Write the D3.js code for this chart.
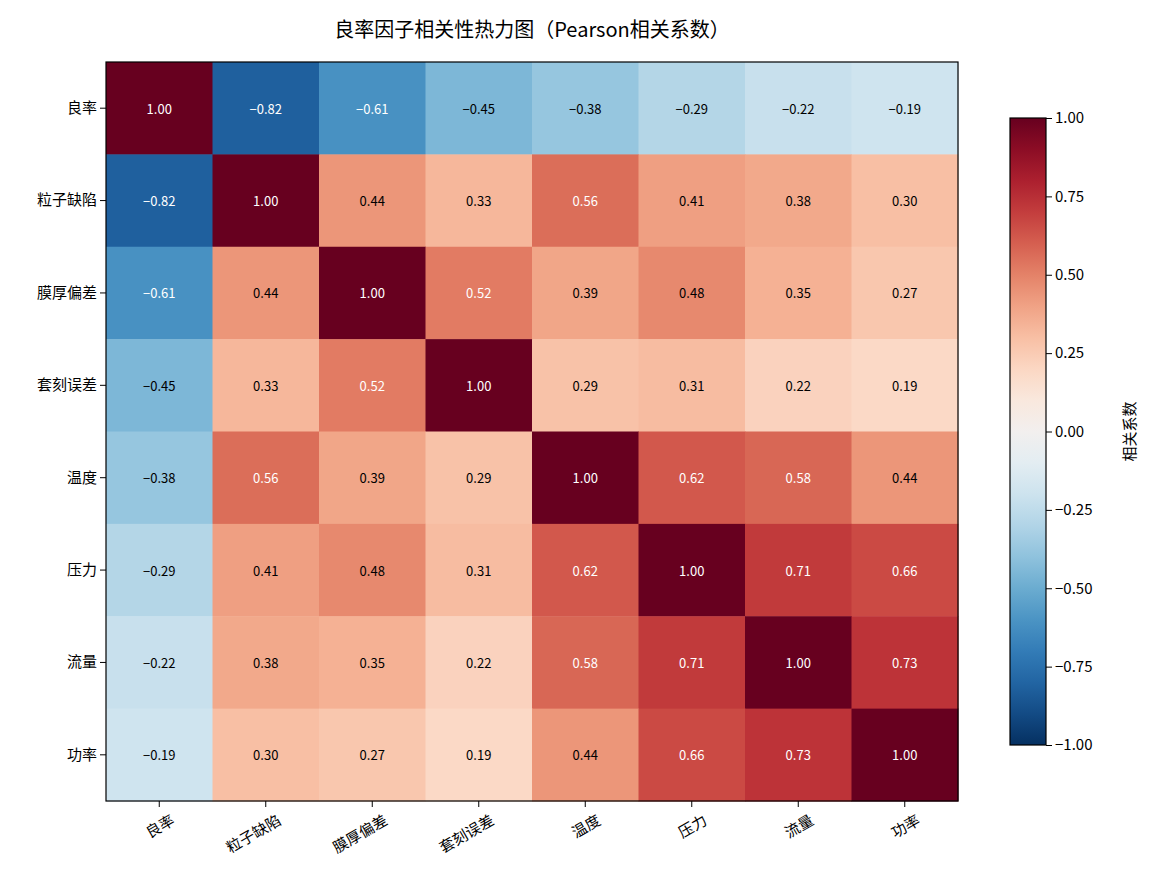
<!DOCTYPE html>
<html><head><meta charset="utf-8">
<script src="https://cdn.jsdelivr.net/npm/d3@7"></script>
<style>body{margin:0;background:#fff}text{font-family:"Noto Sans CJK SC",sans-serif}</style>
</head><body><svg id="chart" width="1155" height="885"></svg>
<script>
const factors = ["良率","粒子缺陷","膜厚偏差","套刻误差","温度","压力","流量","功率"];
const corr = [
  [1.00,-0.82,-0.61,-0.45,-0.38,-0.29,-0.22,-0.19],
  [-0.82,1.00,0.44,0.33,0.56,0.41,0.38,0.30],
  [-0.61,0.44,1.00,0.52,0.39,0.48,0.35,0.27],
  [-0.45,0.33,0.52,1.00,0.29,0.31,0.22,0.19],
  [-0.38,0.56,0.39,0.29,1.00,0.62,0.58,0.44],
  [-0.29,0.41,0.48,0.31,0.62,1.00,0.71,0.66],
  [-0.22,0.38,0.35,0.22,0.58,0.71,1.00,0.73],
  [-0.19,0.30,0.27,0.19,0.44,0.66,0.73,1.00]
];
const cbarTicks = [-1,-0.75,-0.5,-0.25,0,0.25,0.5,0.75,1];

const svg = d3.select("#chart");
const pL = 106, pR = 958, pT = 62, pB = 801;
const x = d3.scaleBand().domain(factors).range([pL, pR]);
const y = d3.scaleBand().domain(factors).range([pT, pB]);
const color = v => d3.interpolateRdBu((1 - v) / 2);

svg.append("text").attr("x", 532).attr("y", 37).attr("text-anchor", "middle")
  .attr("font-size", 20).text("良率因子相关性热力图（Pearson相关系数）");

const cells = [];
corr.forEach((row, i) => row.forEach((v, j) => cells.push({r: factors[i], c: factors[j], v})));

svg.selectAll("rect.cell").data(cells).enter().append("rect")
  .attr("x", d => x(d.c)).attr("y", d => y(d.r))
  .attr("width", x.bandwidth() + 0.5).attr("height", y.bandwidth() + 0.5)
  .attr("fill", d => color(d.v));

svg.selectAll("text.val").data(cells).enter().append("text")
  .attr("x", d => x(d.c) + x.bandwidth() / 2).attr("y", d => y(d.r) + y.bandwidth() / 2)
  .attr("text-anchor", "middle").attr("dominant-baseline", "central")
  .attr("font-size", 13).attr("font-family", "DejaVu Sans Mono")
  .attr("fill", d => Math.abs(d.v) > 0.5 ? "#fff" : "#000")
  .text(d => d.v.toFixed(2).replace("-", "−"));

svg.append("rect").attr("x", pL).attr("y", pT).attr("width", pR - pL).attr("height", pB - pT)
  .attr("fill", "none").attr("stroke", "#000").attr("stroke-width", 1.2);

const xa = svg.append("g").attr("transform", `translate(0,${pB})`)
  .call(d3.axisBottom(x).tickSize(6).tickSizeOuter(0));
xa.select(".domain").remove();
xa.selectAll("text").attr("font-size", 15).attr("text-anchor", "end")
  .attr("transform", "translate(0,6) rotate(-30)").attr("dx", "0.4em").attr("dy", "0.9em")
  .style("font-family", "Noto Sans CJK SC");

const ya = svg.append("g").attr("transform", `translate(${pL},0)`)
  .call(d3.axisLeft(y).tickSize(6).tickSizeOuter(0));
ya.select(".domain").remove();
ya.selectAll("text").attr("font-size", 15).style("font-family", "Noto Sans CJK SC");

// colorbar
const cx = 1010, cw = 36, cTop = 118, cBot = 745;
const cs = d3.scaleLinear().domain([-1, 1]).range([cBot, cTop]);
const defs = svg.append("defs");
const grad = defs.append("linearGradient").attr("id", "cg").attr("x1", 0).attr("y1", 1).attr("x2", 0).attr("y2", 0);
d3.range(0, 1.001, 0.05).forEach(t => grad.append("stop").attr("offset", t).attr("stop-color", color(t * 2 - 1)));
svg.append("rect").attr("x", cx).attr("y", cTop).attr("width", cw).attr("height", cBot - cTop)
  .attr("fill", "url(#cg)").attr("stroke", "#000").attr("stroke-width", 1.2);
const ca = svg.append("g").attr("transform", `translate(${cx + cw},0)`)
  .call(d3.axisRight(cs).tickValues(cbarTicks).tickSize(6).tickFormat(d => d3.format(".2f")(d).replace("-", "−")));
ca.select(".domain").remove();
ca.selectAll("text").attr("font-size", 15).attr("font-family", "DejaVu Sans Mono");
svg.append("text").attr("transform", `translate(1135,${(cTop + cBot) / 2}) rotate(-90)`)
  .attr("text-anchor", "middle").attr("font-size", 15).text("相关系数");
</script></body></html>
